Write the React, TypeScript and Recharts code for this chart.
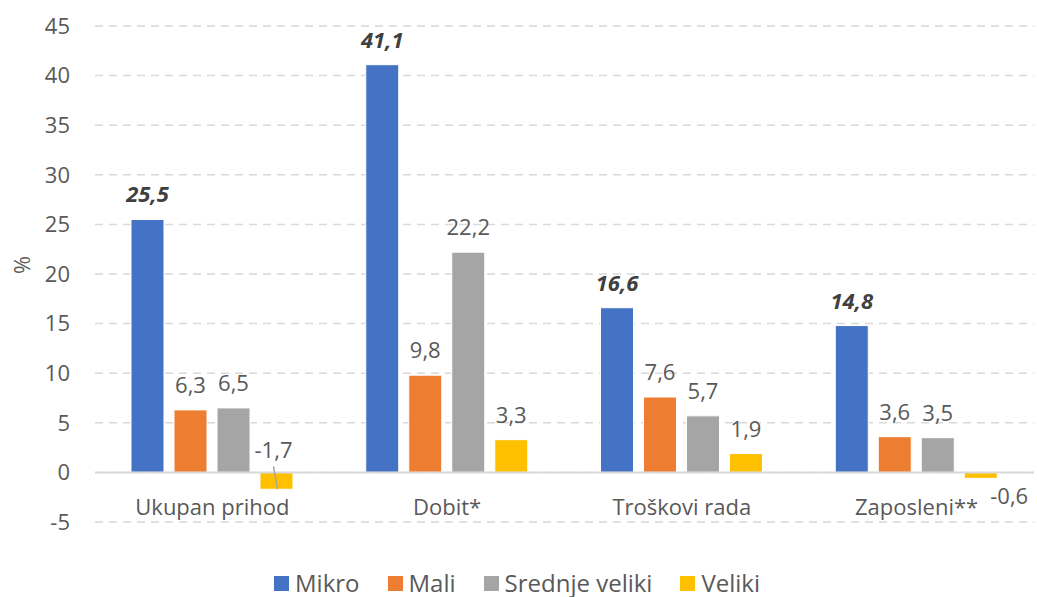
import React from 'react';
import { BarChart, Bar, XAxis, YAxis, CartesianGrid, Legend, ReferenceLine, LabelList, Label } from 'recharts';

const categories = ['Ukupan prihod', 'Dobit*', 'Troškovi rada', 'Zaposleni**'];
const mikro = [25.5, 41.1, 16.6, 14.8];
const mali = [6.3, 9.8, 7.6, 3.6];
const srednje = [6.5, 22.2, 5.7, 3.5];
const veliki = [-1.7, 3.3, 1.9, -0.6];
const yTicks = [-5, 0, 5, 10, 15, 20, 25, 30, 35, 40, 45];

const seriesNames = ['Mikro', 'Mali', 'Srednje veliki', 'Veliki'];
const seriesColors = ['#4472C4', '#ED7D31', '#A5A5A5', '#FFC000'];

const data = categories.map((name, i) => ({
  name,
  Mikro: mikro[i],
  Mali: mali[i],
  'Srednje veliki': srednje[i],
  Veliki: veliki[i],
}));

const FONT = '"Open Sans", "Liberation Sans", sans-serif';
const TEXT = '#595959';
const FS = 22;

const fmt = (v: number) => v.toFixed(1).replace('.', ',');

const CategoryTick = (props: any) => {
  const { x, y, payload } = props;
  return (
    <text x={x} y={y - 7} textAnchor="middle" fill={TEXT} fontSize={FS} fontFamily={FONT}>
      {payload.value}
    </text>
  );
};

// plain value label above the bar
const TopLabel = (props: any) => {
  const { x, y, width, value } = props;
  return (
    <text x={x + width / 2} y={y - 17} textAnchor="middle" fill={TEXT} fontSize={FS} fontFamily={FONT}>
      {fmt(value)}
    </text>
  );
};

const BoldLabel = (props: any) => {
  const { x, y, width, value } = props;
  return (
    <text x={x + width / 2} y={y - 17} textAnchor="middle" fill="#404040" fontSize={FS}
      fontWeight="bold" fontStyle="italic" fontFamily={FONT}>
      {fmt(value)}
    </text>
  );
};

// Veliki has negative values: Excel moved those labels by hand
const VelikiLabel = (props: any) => {
  const { x, y, width, height, value, index } = props;
  const cx = x + width / 2;
  if (value >= 0) return <TopLabel {...props} />;
  const zeroY = height < 0 ? y + height : y;
  if (index === 0) {
    return (
      <g>
        <line x1={cx - 3} y1={zeroY - 6} x2={cx + 1} y2={zeroY + 17} stroke="#a6a6a6" strokeWidth={1.5} />
        <text x={cx - 3} y={zeroY - 14} textAnchor="middle" fill={TEXT} fontSize={FS} fontFamily={FONT}>
          {fmt(value)}
        </text>
      </g>
    );
  }
  return (
    <text x={x + width - 7} y={zeroY + 32} textAnchor="start" fill={TEXT} fontSize={FS} fontFamily={FONT}>
      {fmt(value)}
    </text>
  );
};

const LegendContent = () => (
  <div style={{ display: 'flex', justifyContent: 'center', alignItems: 'center', fontFamily: FONT, fontSize: 24, color: TEXT, lineHeight: '30px' }}>
    {seriesNames.map((n, i) => (
      <div key={n} style={{ display: 'flex', alignItems: 'center', marginRight: i < seriesNames.length - 1 ? 28 : 0 }}>
        <span style={{ width: 15, height: 15, background: seriesColors[i], marginRight: 6, display: 'inline-block' }} />
        <span>{n}</span>
      </div>
    ))}
  </div>
);

export default function App() {
  return (
    <div style={{ position: 'absolute', left: 0, top: 0, background: '#fff' }}>
      <BarChart
        width={1037}
        height={597}
        data={data}
        margin={{ top: 26, right: 3, left: 0, bottom: 15 }}
        barSize={33}
        barGap={10}
      >
        <CartesianGrid vertical={false} stroke="#d9d9d9" strokeDasharray="8 6" strokeWidth={1.5} />
        <XAxis dataKey="name" axisLine={false} tickLine={false} tickSize={0} tickMargin={0} height={30}
          tick={<CategoryTick />} interval={0} />
        <YAxis domain={[-5, 45]} ticks={yTicks} axisLine={false} tickLine={false} width={95} tickMargin={19}
          tick={{ fill: TEXT, fontSize: FS, fontFamily: FONT }}>
          <Label value="%" angle={-90} position="insideLeft" offset={22} fill={TEXT} fontSize={FS} fontFamily={FONT} />
        </YAxis>
        <ReferenceLine y={0} stroke="#d9d9d9" strokeWidth={2} />
        <Legend verticalAlign="bottom" content={<LegendContent />} wrapperStyle={{ bottom: -1 }} />
        <Bar dataKey="Mikro" fill={seriesColors[0]} stroke="#fff" strokeWidth={1} isAnimationActive={false}>
          <LabelList dataKey="Mikro" content={<BoldLabel />} />
        </Bar>
        <Bar dataKey="Mali" fill={seriesColors[1]} stroke="#fff" strokeWidth={1} isAnimationActive={false}>
          <LabelList dataKey="Mali" content={<TopLabel />} />
        </Bar>
        <Bar dataKey="Srednje veliki" fill={seriesColors[2]} stroke="#fff" strokeWidth={1} isAnimationActive={false}>
          <LabelList dataKey="Srednje veliki" content={<TopLabel />} />
        </Bar>
        <Bar dataKey="Veliki" fill={seriesColors[3]} stroke="#fff" strokeWidth={1} isAnimationActive={false}>
          <LabelList dataKey="Veliki" content={<VelikiLabel />} />
        </Bar>
      </BarChart>
    </div>
  );
}
